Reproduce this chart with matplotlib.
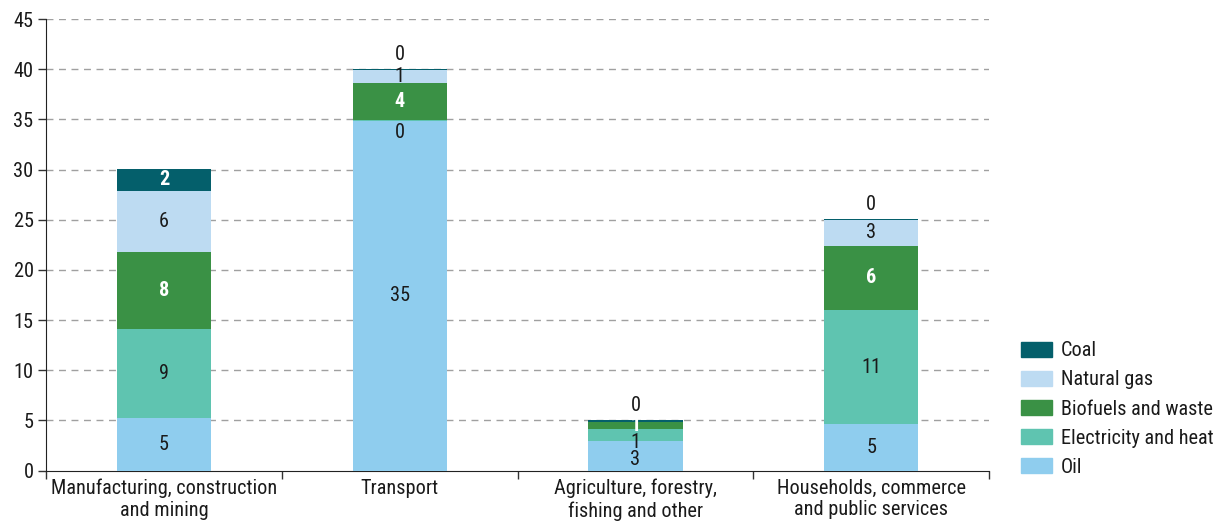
import numpy as np
import matplotlib
matplotlib.use("Agg")
import matplotlib.pyplot as plt
from matplotlib.patches import Patch
from matplotlib import font_manager

# a condensed face suits this chart
names = {f.name for f in font_manager.fontManager.ttflist}
FONT = next((n for n in ["Roboto Condensed", "Archivo Narrow", "Barlow Semi Condensed",
                         "Asap Condensed"] if n in names), "DejaVu Sans")
plt.rcParams["font.family"] = [FONT, "DejaVu Sans"]

sectors = ["Manufacturing, construction\nand mining", "Transport",
           "Agriculture, forestry,\nfishing and other", "Households, commerce\nand public services"]

oil = [5.2, 34.85, 2.9, 4.6]
electricity = [8.9, 0.1, 1.2, 11.4]
biofuels = [7.7, 3.7, 0.75, 6.4]
natural_gas = [6.1, 1.3, 0.0, 2.6]
coal = [2.2, 0.05, 0.15, 0.1]

series = [
    ("Oil", oil, "#8fcdee", "#1a1a1a", "normal"),
    ("Electricity and heat", electricity, "#5fc4b0", "#1a1a1a", "normal"),
    ("Biofuels and waste", biofuels, "#3a9145", "white", "bold"),
    ("Natural gas", natural_gas, "#bddbf2", "#1a1a1a", "normal"),
    ("Coal", coal, "#045f6b", "white", "bold"),
]
FS = 14.6

fig = plt.figure(figsize=(12.24, 5.24), dpi=100)
ax = fig.add_axes([0.0376, 0.102, 0.7705, 0.8617])

x = np.arange(len(sectors))
bottom = np.zeros(len(sectors))
labels = [[] for _ in sectors]  # per bar: (y, text, colour, weight)
for k, (name, vals, col, tcol, w) in enumerate(series):
    vals = np.array(vals)
    ax.bar(x, vals, 0.4, bottom=bottom, color=col, edgecolor="none", zorder=3)
    for i, v in enumerate(vals):
        if v <= 0:
            continue
        top = bottom[i] + v
        if v < 0.5:
            if k == len(series) - 1:
                y, c, ww = top + 1.45, "#1a1a1a", "normal"
            else:
                y, c, ww = bottom[i] - 1.15, "#1a1a1a", "normal"
        else:
            y, c, ww = bottom[i] + v / 2, tcol, w
        labels[i].append((y, f"{v:.0f}", c, ww))
    bottom += vals

# keep stacked labels from running into each other
for i, lab in enumerate(labels):
    lab.sort(key=lambda t: -t[0])
    prev = None
    for y, txt, c, ww in lab:
        if prev is not None and y > prev - 1.7:
            y = prev - 1.7
        ax.text(x[i], y, txt, ha="center", va="center", fontsize=FS,
                color=c, fontweight=ww, zorder=4)
        prev = y

ax.set_xlim(-0.5, 3.5)
ax.set_ylim(0, 45)
ax.set_yticks(np.arange(0, 46, 5))
ax.tick_params(axis="y", labelsize=FS, length=6, width=1, color="#333333", pad=3,
               labelcolor="#1a1a1a")
ax.set_xticks(np.arange(-0.5, 4, 1))
ax.set_xticklabels([])
ax.tick_params(axis="x", length=6, width=1, color="#333333", direction="out")
ax.set_xticks(x, minor=True)
ax.set_xticklabels(sectors, minor=True, fontsize=FS, linespacing=1.17, color="#1a1a1a")
ax.tick_params(axis="x", which="minor", length=0, pad=6)

for yv in range(5, 46, 5):
    ax.axhline(yv, color="#a0a0a0", lw=1, ls=(0, (5, 4)), zorder=1)

for s in ["top", "right"]:
    ax.spines[s].set_visible(False)
ax.spines["left"].set_color("#222222")
ax.spines["bottom"].set_color("#222222")

handles = [Patch(color=s[2], label=s[0]) for s in reversed(series)]
fig.legend(handles=handles, loc="upper left", bbox_to_anchor=(0.826, 0.368),
           frameon=False, fontsize=FS, handlelength=1.5, handleheight=0.75,
           handletextpad=0.45, labelspacing=0.5, borderpad=0, labelcolor="#1a1a1a")

fig.savefig("out.png", dpi=100)
